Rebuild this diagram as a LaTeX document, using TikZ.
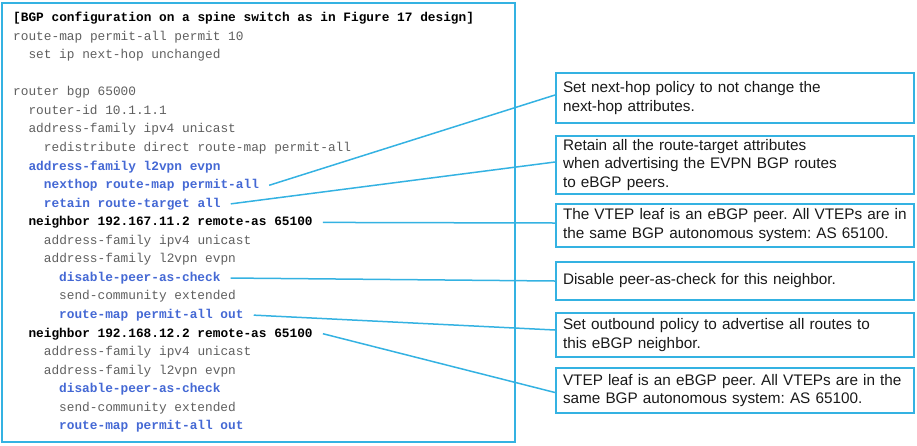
\documentclass[tikz,border=0pt]{standalone}
\usepackage{fontspec}
\setmainfont{Liberation Sans}
\setmonofont{Liberation Mono}
\frenchspacing

\definecolor{frameblue}{RGB}{52,178,226}
\definecolor{cfgblue}{RGB}{68,104,212}
\definecolor{cfggray}{RGB}{95,95,95}

\tikzset{
  cfg/.style={anchor=mid west, inner sep=0pt, font=\fontsize{12.8}{15}\selectfont\ttfamily, text=cfggray},
  cfgbold/.style={cfg, font=\fontsize{12.8}{15}\selectfont\ttfamily\bfseries, text=black},
  cfghl/.style={cfgbold, text=cfgblue},
  note/.style={rectangle, draw=frameblue, line width=2pt, anchor=west, minimum width=358pt, text width=344pt, inner xsep=7pt, align=left, font=\fontsize{15.3}{18.3}\selectfont, text=black!90},
  link/.style={draw=frameblue, line width=1.5pt},
}

\begin{document}
\begin{tikzpicture}[x=1pt, y=-1pt]
\useasboundingbox (0,0) rectangle (917,445);

\node[rectangle, draw=frameblue, line width=2pt, minimum width=513pt, minimum height=439pt] (code) at (258.5,222.5) {};

% configuration lines
\node[cfgbold] (l1) at (13,19) {[BGP configuration on a spine switch as in Figure 17 design]};
\node[cfg] (l2) at (13,37.55) {route-map permit-all permit 10};
\node[cfg] (l3) at (28.3,56.1) {set ip next-hop unchanged};
\node[cfg] (l5) at (13,93.2) {router bgp 65000};
\node[cfg] (l6) at (28.3,111.75) {router-id 10.1.1.1};
\node[cfg] (l7) at (28.3,130.3) {address-family ipv4 unicast};
\node[cfg] (l8) at (43.7,148.85) {redistribute direct route-map permit-all};
\node[cfghl] (l9) at (28.3,167.4) {address-family l2vpn evpn};
\node[cfghl] (l10) at (43.7,185.95) {nexthop route-map permit-all};
\node[cfghl] (l11) at (43.7,204.5) {retain route-target all};
\node[cfgbold] (l12) at (28.3,223.05) {neighbor 192.167.11.2 remote-as 65100};
\node[cfg] (l13) at (43.7,241.6) {address-family ipv4 unicast};
\node[cfg] (l14) at (43.7,260.15) {address-family l2vpn evpn};
\node[cfghl] (l15) at (59,278.7) {disable-peer-as-check};
\node[cfg] (l16) at (59,297.25) {send-community extended};
\node[cfghl] (l17) at (59,315.8) {route-map permit-all out};
\node[cfgbold] (l18) at (28.3,334.35) {neighbor 192.168.12.2 remote-as 65100};
\node[cfg] (l19) at (43.7,352.9) {address-family ipv4 unicast};
\node[cfg] (l20) at (43.7,371.45) {address-family l2vpn evpn};
\node[cfghl] (l21) at (59,390) {disable-peer-as-check};
\node[cfg] (l22) at (59,408.55) {send-community extended};
\node[cfghl] (l23) at (59,427.1) {route-map permit-all out};

% notes
\node[note, minimum height=50pt] (n1) at (555,98) {Set next-hop policy to not change the\\next-hop attributes.};
\node[note, minimum height=56pt] (n2) at (555,165) {Retain all the route-target attributes\\when advertising the EVPN BGP routes\\to eBGP peers.};
\node[note, minimum height=43pt] (n3) at (555,225) {The VTEP leaf is an eBGP peer. All VTEPs are in\\the same BGP autonomous system: AS 65100.};
\node[note, minimum height=38pt] (n4) at (555,281) {Disable peer-as-check for this neighbor.};
\node[note, minimum height=44pt] (n5) at (555,335) {Set outbound policy to advertise all routes to\\this eBGP neighbor.};
\node[note, minimum height=45pt] (n6) at (555,390.5) {VTEP leaf is an eBGP peer. All VTEPs are in the\\same BGP autonomous system: AS 65100.};

\draw[link] ([xshift=10pt]l10.east) -- ([yshift=3pt]n1.west);
\draw[link] ([xshift=10pt]l11.east) -- ([yshift=3pt]n2.west);
\draw[link] ([xshift=10pt]l12.east) -- ([yshift=2pt]n3.west);
\draw[link] ([xshift=10pt]l15.east) -- (n4.west);
\draw[link] ([xshift=10pt]l17.east) -- ([yshift=5pt]n5.west);
\draw[link] ([xshift=10pt]l18.east) -- ([yshift=-2pt]n6.west);

\end{tikzpicture}
\end{document}
